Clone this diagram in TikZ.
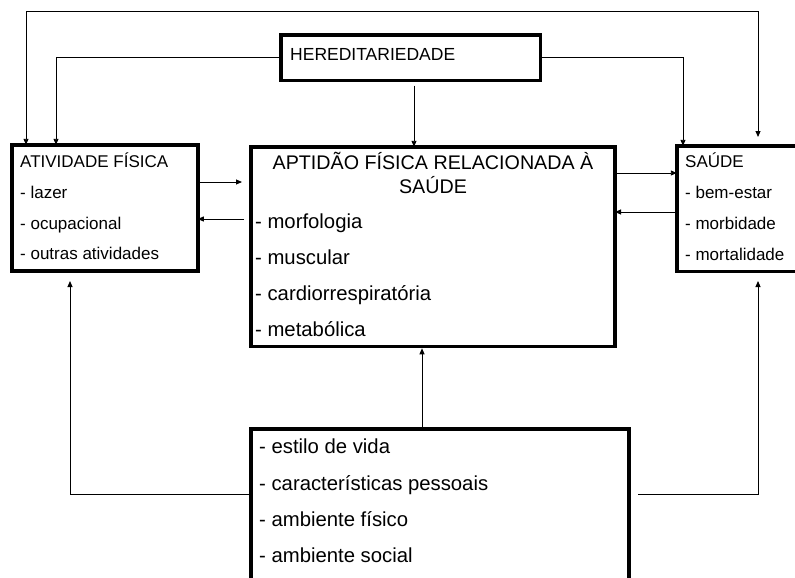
\documentclass[tikz,border=0pt]{standalone}
\usepackage{fontspec}
\setmainfont{Liberation Sans}
\usetikzlibrary{arrows.meta}
\begin{document}
\begin{tikzpicture}[x=1pt,y=-1pt,
  box/.style={draw,line width=3.6pt,rectangle,inner sep=0pt,outer sep=0pt,anchor=north west},
  conn/.style={line width=0.9pt,-{Triangle[length=6pt,width=5pt]}},
  small/.style={font=\fontsize{17}{20}\selectfont,anchor=base west,inner sep=0pt},
  big/.style={font=\fontsize{20.3}{24}\selectfont,anchor=base west,inner sep=0pt},
  titletxt/.style={font=\fontsize{19.7}{24}\selectfont,anchor=base,inner sep=0pt}]
\useasboundingbox (0,0) rectangle (795,578);
\clip (0,0) rectangle (795,578);
% boxes
\node[box,minimum width=259.5pt,minimum height=45.5pt] (hered) at (281,35) {};
\node[box,minimum width=186pt,minimum height=126pt] (ativ) at (11.8,144.8) {};
\node[box,minimum width=364pt,minimum height=199.5pt] (apt) at (251,146.8) {};
\node[box,minimum width=140pt,minimum height=125.5pt] (saude) at (676.8,145.8) {};
\node[box,minimum width=378pt,minimum height=200pt] (bot) at (251,428.8) {};
% texts
\node[small,font=\fontsize{17.5}{20}\selectfont] (th) at (290,60) {HEREDITARIEDADE};
\node[small] (ta0) at (20,167) {ATIVIDADE FÍSICA};
\node[small] (ta1) at (20,198) {- lazer};
\node[small] (ta2) at (20,229) {- ocupacional};
\node[small] (ta3) at (20,259) {- outras atividades};
\node[titletxt] (tp0) at (433,169) {APTIDÃO FÍSICA RELACIONADA À};
\node[titletxt] (tp1) at (433,193) {SAÚDE};
\node[big] (tp2) at (255,228) {- morfologia};
\node[big] (tp3) at (255,264) {- muscular};
\node[big] (tp4) at (255,300) {- cardiorrespiratória};
\node[big] (tp5) at (255,336) {- metabólica};
\node[small] (ts0) at (685,167) {SAÚDE};
\node[small] (ts1) at (685,198) {- bem-estar};
\node[small] (ts2) at (685,229) {- morbidade};
\node[small] (ts3) at (685,260) {- mortalidade};
\node[big] (tb1) at (259,453) {- estilo de vida};
\node[big] (tb2) at (259,490) {- características pessoais};
\node[big] (tb3) at (259,526) {- ambiente físico};
\node[big] (tb4) at (259,562) {- ambiente social};
% helper coordinates
\coordinate (tl) at (26,11);
\coordinate (tr) at (758,11);
\coordinate (trend) at (758,137);
\coordinate (hl) at (56,0);
\coordinate (hr) at (683,0);
\coordinate (hd) at (414,0);
\coordinate (bl) at (70,494);
\coordinate (blend) at (70,281);
\coordinate (brs) at (638,494);
\coordinate (br) at (758,494);
\coordinate (brend) at (758,281);
\coordinate (bm) at (422,0);
% connectors
\draw[conn,{Triangle[length=6pt,width=5pt]}-{Triangle[length=6pt,width=5pt]}]
  (tl |- ativ.north) -- (tl) -- (tr) -- (trend);
\draw[conn] (hered.west) -| (hl |- ativ.north);
\draw[conn] (hered.east) -| (hr |- saude.north);
\draw[conn,shorten <=5pt] (hd |- hered.south) -- (hd |- apt.north);
\draw[conn,shorten >=9pt] (ativ.east |- 0,182) -- (apt.west |- 0,182);
\draw[conn,shorten <=7pt] (apt.west |- 0,219) -- (ativ.east |- 0,219);
\draw[conn] (apt.east |- 0,173) -- (saude.west |- 0,173);
\draw[conn] (saude.west |- 0,212) -- (apt.east |- 0,212);
\draw[conn] (bot.west |- bl) -- (bl) -- (blend);
\draw[conn] (brs) -- (br) -- (brend);
\draw[conn,shorten >=2pt] (bm |- bot.north) -- (bm |- apt.south);
\end{tikzpicture}
\end{document}
